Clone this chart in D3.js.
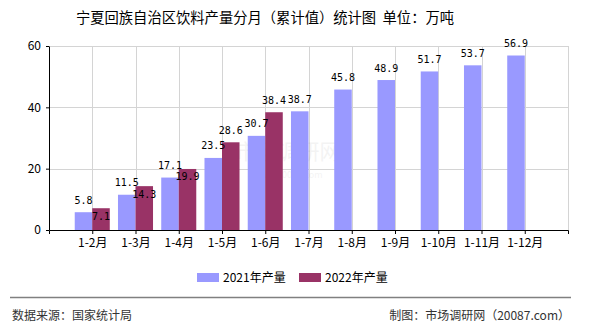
<!DOCTYPE html>
<html>
<head>
<meta charset="utf-8">
<script src="https://cdn.jsdelivr.net/npm/d3@7/dist/d3.min.js"></script>
<style>
  html, body { margin: 0; padding: 0; background: #fff; }
  svg { display: block; }
  .cjk { font-family: "Noto Sans CJK SC", "Noto Sans", sans-serif; }
  .mono { font-family: "DejaVu Sans Mono", "Liberation Mono", monospace; }
</style>
</head>
<body>
<svg id="chart" width="590" height="330"></svg>
<script>
// Cumulative beverage output by month range (10k tonnes)
const categories = ["1-2月", "1-3月", "1-4月", "1-5月", "1-6月", "1-7月", "1-8月", "1-9月", "1-10月", "1-11月", "1-12月"];
const values2021 = [5.8, 11.5, 17.1, 23.5, 30.7, 38.7, 45.8, 48.9, 51.7, 53.7, 56.9];
const values2022 = [7.1, 14.3, 19.9, 28.6, 38.4];
const seriesNames = ["2021年产量", "2022年产量"];
const seriesColors = ["#9999FF", "#993366"];
const yTicks = [0, 20, 40, 60];

const svg = d3.select("#chart");
const plotL = 49, plotR = 568, plotT = 46, plotB = 230;

const x = d3.scalePoint().domain(categories).range([plotL, plotR]).padding(1);
const y = d3.scaleLinear().domain([0, 60]).range([plotB, plotT]);
const bw = x.step() * 0.405;

// Title
svg.append("text").attr("class", "cjk")
  .attr("x", 265).attr("y", 23).attr("text-anchor", "middle")
  .attr("font-size", 14.3).attr("fill", "#000")
  .attr("xml:space", "preserve")
  .text("宁夏回族自治区饮料产量分月（累计值）统计图  单位：万吨");

// Grid
const grid = svg.append("g").attr("stroke", "#d4d4d4").attr("stroke-width", 1);
yTicks.filter(t => t > 0).forEach(t => {
  grid.append("line").attr("x1", plotL).attr("x2", plotR)
    .attr("y1", Math.round(y(t)) + 0.5).attr("y2", Math.round(y(t)) + 0.5);
});
categories.forEach(c => {
  const px = Math.round(x(c)) + 0.5;
  grid.append("line").attr("x1", px).attr("x2", px).attr("y1", plotT).attr("y2", plotB);
});
grid.append("line").attr("x1", plotR + 0.5).attr("x2", plotR + 0.5).attr("y1", plotT).attr("y2", plotB);

// Watermark
const wm = svg.append("g").attr("class", "cjk").attr("fill", "#000").attr("opacity", 0.045);
wm.append("text").attr("x", 288).attr("y", 159).attr("text-anchor", "middle")
  .attr("font-size", 21).text("市场调研网");
wm.append("text").attr("x", 288).attr("y", 178).attr("text-anchor", "middle")
  .attr("font-size", 9).text("www.20087.com");

// Bars
const bars = svg.append("g");
bars.selectAll("rect.s21").data(values2021).join("rect")
  .attr("class", "s21")
  .attr("x", (d, i) => x(categories[i]) - bw)
  .attr("y", d => y(d)).attr("width", bw).attr("height", d => y(0) - y(d))
  .attr("fill", seriesColors[0]);
bars.selectAll("rect.s22").data(values2022).join("rect")
  .attr("class", "s22")
  .attr("x", (d, i) => x(categories[i]))
  .attr("y", d => y(d)).attr("width", bw).attr("height", d => y(0) - y(d))
  .attr("fill", seriesColors[1]);

// Value labels; a 2022 label that would collide with its 2021 neighbour drops inside the bar
const labels = svg.append("g").attr("class", "mono").attr("font-size", 10)
  .attr("fill", "#000").attr("text-anchor", "middle");
values2021.forEach((v, i) => {
  labels.append("text").attr("x", x(categories[i]) - bw / 2).attr("y", y(v) - 8.5).text(v.toFixed(1));
});
values2022.forEach((v, i) => {
  const above = y(v) - 8.5;
  const other = y(values2021[i]) - 8.5;
  const ly = Math.abs(above - other) < 12 ? y(v) + 11.5 : above;
  labels.append("text").attr("x", x(categories[i]) + bw / 2).attr("y", ly).text(v.toFixed(1));
});

// Axes
const xAxis = svg.append("g").attr("transform", `translate(0,${plotB})`)
  .call(d3.axisBottom(x).tickSizeInner(4).tickSizeOuter(4).tickPadding(4));
xAxis.selectAll("text").attr("class", "cjk").attr("font-size", 12).attr("fill", "#000");
xAxis.selectAll("line, path").attr("stroke", "#000");

const yAxis = svg.append("g").attr("transform", `translate(${plotL},0)`)
  .call(d3.axisLeft(y).tickValues(yTicks).tickSizeInner(3).tickSizeOuter(0).tickPadding(5));
yAxis.selectAll("text").attr("class", "cjk").attr("font-size", 12).attr("fill", "#000");
yAxis.selectAll("line, path").attr("stroke", "#000");

// Legend
const legend = svg.append("g").attr("class", "cjk");
const legendX = [197, 299];
seriesNames.forEach((name, i) => {
  legend.append("rect").attr("x", legendX[i]).attr("y", 273).attr("width", 22).attr("height", 9)
    .attr("fill", seriesColors[i]);
  legend.append("text").attr("x", legendX[i] + 26).attr("y", 282)
    .attr("font-size", 12).attr("fill", "#000").text(name);
});

// Footer
svg.append("line").attr("x1", 10).attr("x2", 571).attr("y1", 297.5).attr("y2", 297.5)
  .attr("stroke", "#808080").attr("stroke-width", 1.3);
svg.append("text").attr("class", "cjk").attr("x", 12).attr("y", 320)
  .attr("font-size", 12).attr("fill", "#333").text("数据来源：国家统计局");
svg.append("text").attr("class", "cjk").attr("x", 570).attr("y", 320).attr("text-anchor", "end")
  .attr("font-size", 12).attr("fill", "#333").text("制图：市场调研网（20087.com）");
</script>
</body>
</html>
